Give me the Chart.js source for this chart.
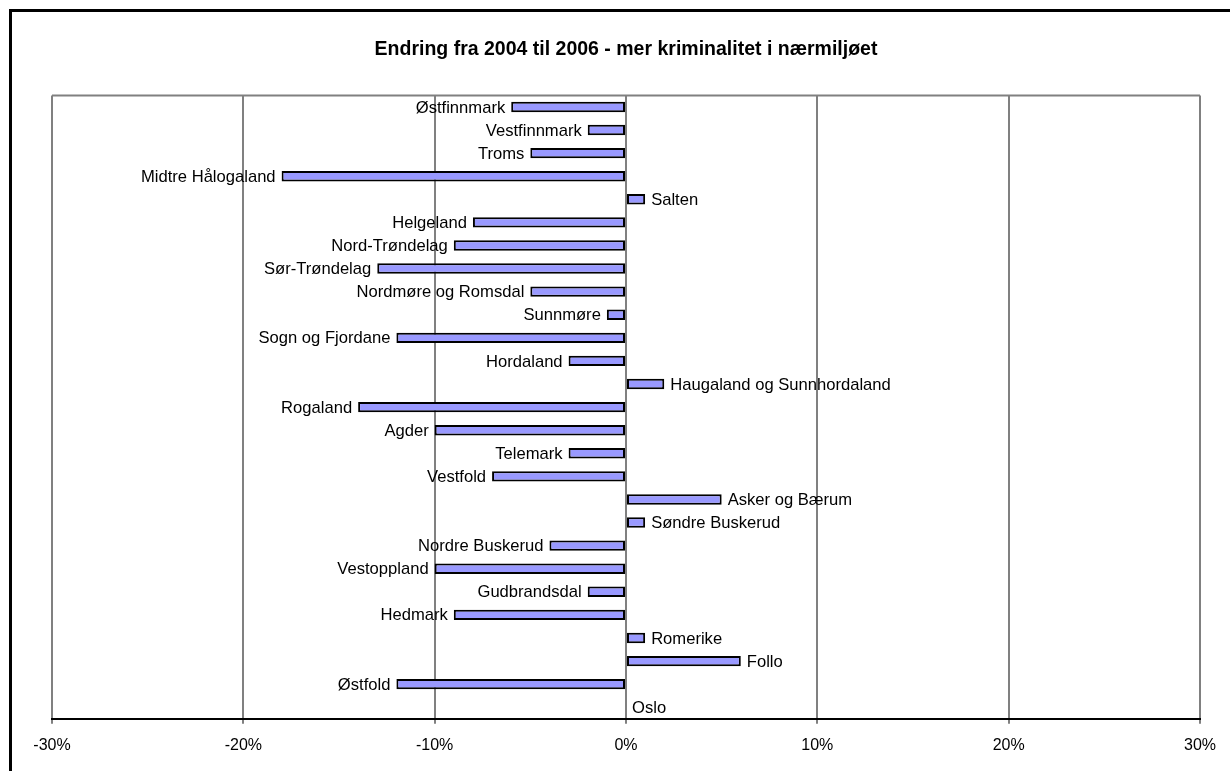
<!DOCTYPE html>
<html>
<head>
<meta charset="utf-8">
<script src="https://cdn.jsdelivr.net/npm/chart.js@4/dist/chart.umd.min.js"></script>
<style>
  html, body { margin: 0; padding: 0; background: #fff; }
  #wrap { width: 1230px; height: 771px; position: relative; }
</style>
</head>
<body>
<div id="wrap"><canvas id="chart"></canvas></div>
<script>
// categories, top to bottom
var regions = ['Østfinnmark', 'Vestfinnmark', 'Troms', 'Midtre Hålogaland', 'Salten',
  'Helgeland', 'Nord-Trøndelag', 'Sør-Trøndelag', 'Nordmøre og Romsdal', 'Sunnmøre',
  'Sogn og Fjordane', 'Hordaland', 'Haugaland og Sunnhordaland', 'Rogaland', 'Agder',
  'Telemark', 'Vestfold', 'Asker og Bærum', 'Søndre Buskerud', 'Nordre Buskerud',
  'Vestoppland', 'Gudbrandsdal', 'Hedmark', 'Romerike', 'Follo', 'Østfold', 'Oslo'];
// change in percent
var change = [-6, -2, -5, -18, 1,
  -8, -9, -13, -5, -1,
  -12, -3, 2, -14, -10,
  -3, -7, 5, 1, -4,
  -10, -2, -9, 1, 6, -12, 0];
var xTicks = [-30, -20, -10, 0, 10, 20, 30];

var font = 'Arial, "Liberation Sans", sans-serif';

// outer frame + top line of the plot area
var framePlugin = {
  id: 'frame',
  beforeDraw: function (chart) {
    var c = chart.ctx, a = chart.chartArea;
    c.save();
    c.fillStyle = '#fff';
    c.fillRect(0, 0, chart.width, chart.height);
    c.strokeStyle = '#000';
    c.lineWidth = 3;
    c.strokeRect(10.5, 10.5, chart.width + 20, chart.height + 20);
    c.strokeStyle = '#808080';
    c.lineWidth = 2;
    c.beginPath();
    c.moveTo(a.left, a.top);
    c.lineTo(a.right, a.top);
    c.stroke();
    c.restore();
  }
};

// category names next to bar ends
var labelPlugin = {
  id: 'barLabels',
  afterDatasetsDraw: function (chart) {
    var c = chart.ctx;
    var meta = chart.getDatasetMeta(0);
    c.save();
    c.font = '16.6px ' + font;
    c.fillStyle = '#000';
    c.textBaseline = 'middle';
    meta.data.forEach(function (bar, i) {
      if (change[i] < 0) {
        c.textAlign = 'right';
        c.fillText(regions[i], bar.x - 6, bar.y + 1);
      } else {
        c.textAlign = 'left';
        c.fillText(regions[i], bar.x + 6, bar.y + 1);
      }
    });
    c.restore();
  }
};

new Chart(document.getElementById('chart'), {
  type: 'bar',
  data: {
    labels: regions,
    datasets: [{
      data: change,
      backgroundColor: '#9999ff',
      borderColor: '#000',
      borderWidth: 2,
      borderSkipped: false,
      barPercentage: 0.45,
      categoryPercentage: 1
    }]
  },
  options: {
    indexAxis: 'y',
    responsive: true,
    maintainAspectRatio: false,
    animation: false,
    layout: { padding: { left: 52, right: 30, top: 0, bottom: 4 } },
    plugins: {
      legend: { display: false },
      tooltip: { enabled: false },
      title: {
        display: true,
        text: 'Endring fra 2004 til 2006 - mer kriminalitet i nærmiljøet',
        color: '#000',
        font: { family: font, size: 19.5, weight: 'bold' },
        padding: { top: 38, bottom: 34 }
      }
    },
    scales: {
      x: {
        min: -30, max: 30,
        afterBuildTicks: function (axis) {
          axis.ticks = xTicks.map(function (v) { return { value: v }; });
        },
        grid: { color: '#808080', lineWidth: 2, tickLength: 5, drawTicks: true },
        border: { color: '#000', width: 2 },
        ticks: {
          color: '#000',
          padding: 12,
          font: { family: font, size: 16 },
          callback: function (v) { return v + '%'; }
        }
      },
      y: {
        display: false
      }
    }
  },
  plugins: [framePlugin, labelPlugin]
});
</script>
</body>
</html>
